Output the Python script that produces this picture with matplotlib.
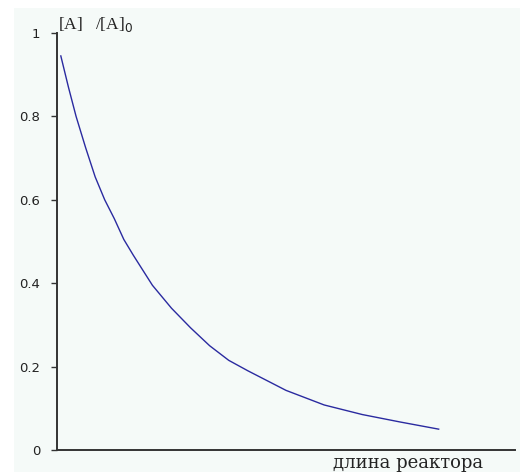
import numpy as np
import matplotlib.pyplot as plt
from matplotlib.patches import Rectangle

# концентрация вдоль реактора
length = [0.1, 0.3, 0.5, 0.75, 1.0, 1.25, 1.5, 1.75, 2.0, 2.5, 3.0, 3.5, 4.0,
          4.5, 5.0, 6.0, 7.0, 8.0, 9.0, 10.0]
conc = [0.945, 0.87, 0.80, 0.725, 0.655, 0.60, 0.555, 0.505, 0.467, 0.395, 0.34,
        0.293, 0.25, 0.215, 0.19, 0.143, 0.108, 0.085, 0.067, 0.05]
yticks = [0, 0.2, 0.4, 0.6, 0.8, 1]
ytick_labels = ['0', '0.2', '0.4', '0.6', '0.8', '1']

bg = '#f5faf8'
fig = plt.figure(figsize=(5.2, 4.72), dpi=100)
fig.patch.set_facecolor('white')
fig.add_artist(Rectangle((14 / 520, 0), 1, 1 - 8 / 472, transform=fig.transFigure,
                         facecolor=bg, edgecolor='none', zorder=0))

ax = fig.add_axes([57 / 520, 22 / 472, 458 / 520, 417 / 472])
ax.set_facecolor('none')
ax.plot(length, conc, color='#2a2aa0', lw=1.0)

ax.set_xlim(0, 12)
ax.set_ylim(0, 1)
for s in ['top', 'right']:
    ax.spines[s].set_visible(False)
for s in ['left', 'bottom']:
    ax.spines[s].set_color('#333333')
    ax.spines[s].set_linewidth(1.4)

ax.set_xticks([])
ax.set_yticks(yticks)
ax.set_yticklabels(ytick_labels, fontsize=9.5, color='#222222')
ax.tick_params(axis='y', length=4, width=1, color='#333333', pad=8)

ax.text(0.003, 0.997, '[A]   /[A]$_0$', transform=ax.transAxes, fontsize=12.5,
        family='Liberation Serif', ha='left', va='bottom', color='#222222')
ax.text(0.766, -0.01, 'длина реактора', transform=ax.transAxes, fontsize=13,
        family='DejaVu Serif', ha='center', va='top', color='#222222')

fig.savefig('out.png', dpi=100)
